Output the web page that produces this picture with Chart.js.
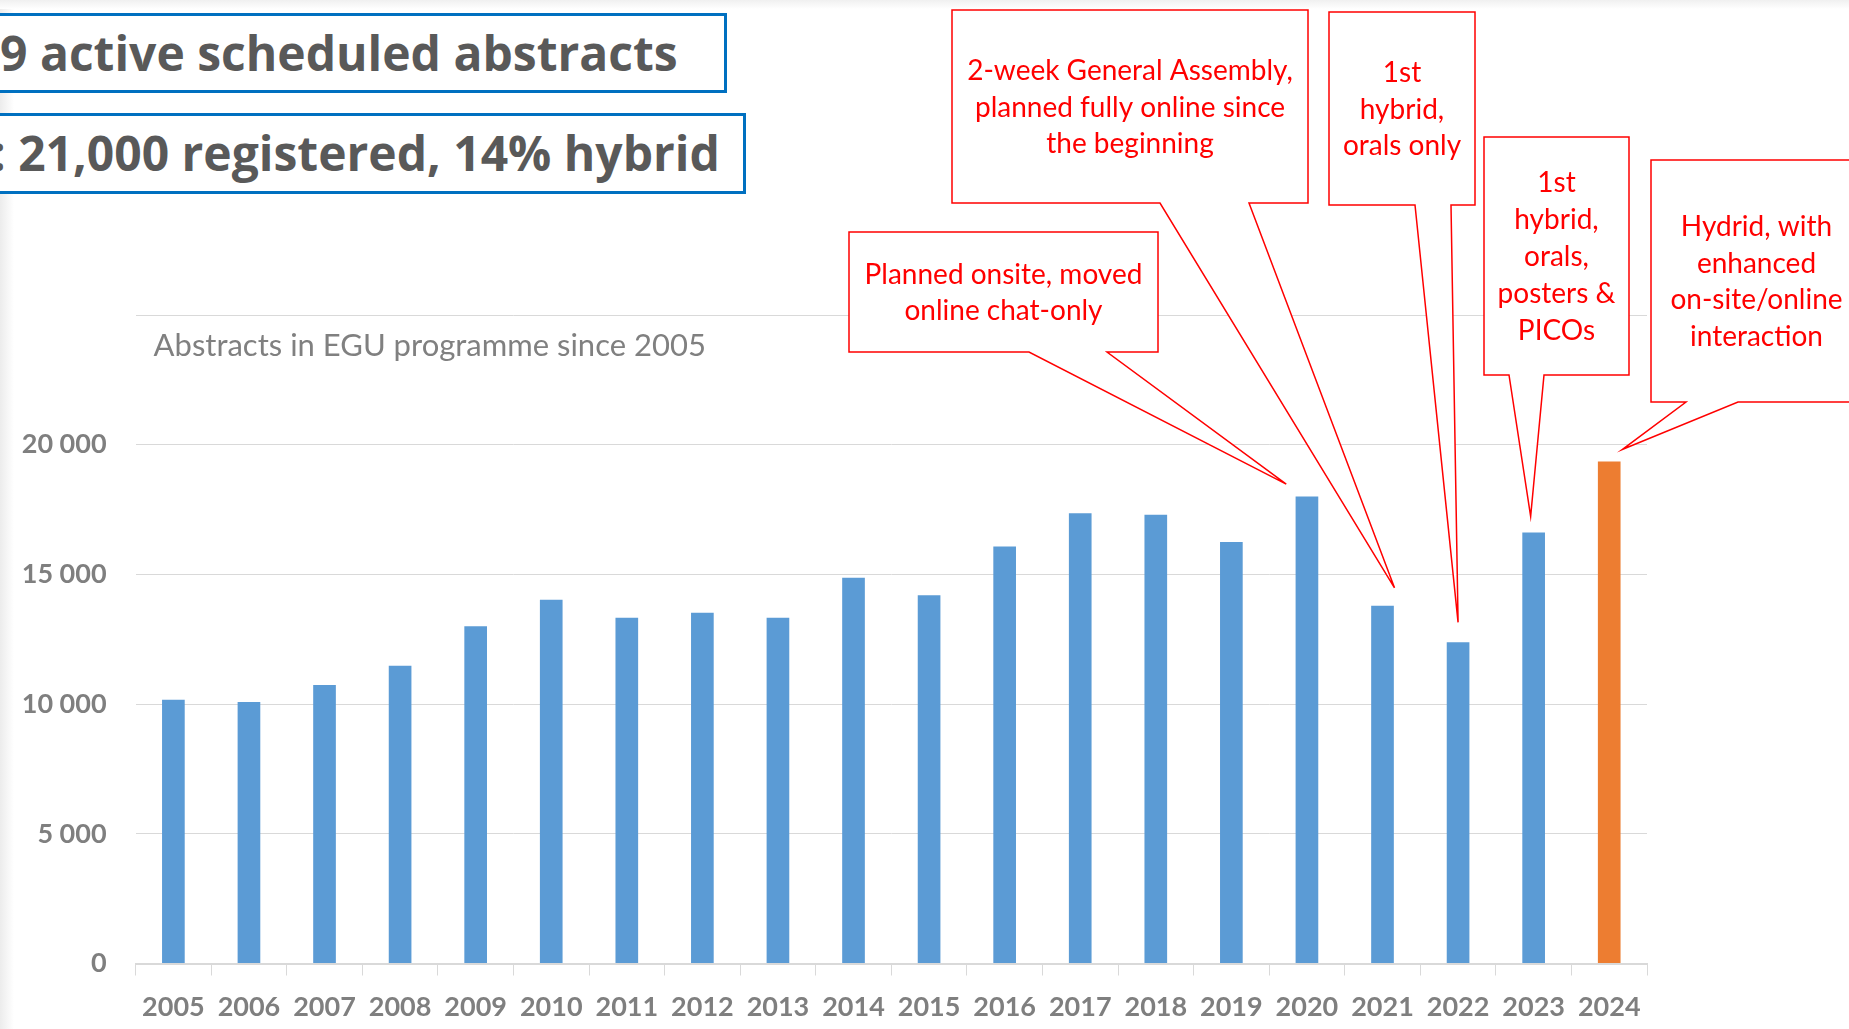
<!DOCTYPE html>
<html><head><meta charset="utf-8">
<script src="https://cdn.jsdelivr.net/npm/chart.js@4.4.1/dist/chart.umd.min.js"></script>
<style>
html,body{margin:0;padding:0;background:#fff;width:1849px;height:1029px;overflow:hidden;position:relative}
#c{position:absolute;left:0;top:0}
.edge-l{position:absolute;left:0;top:0;width:14px;height:1029px;background:linear-gradient(to right,#ececec,#ffffff)}
.edge-t{position:absolute;left:0;top:0;width:1849px;height:9px;background:linear-gradient(to bottom,#f0f0f0,#ffffff)}
.hbox{position:absolute;border:3px solid #0070C0;box-sizing:border-box;background:#fff}
.htxt{position:absolute;font-family:'Open Sans';font-weight:700;font-size:48px;line-height:50px;color:#595959;white-space:nowrap}
</style></head>
<body>
<div class="edge-l"></div>
<div class="edge-t"></div>
<div class="hbox" style="left:-10px;top:13px;width:737px;height:80px"></div>
<div class="hbox" style="left:-10px;top:113px;width:756px;height:81px"></div>
<div class="htxt" style="left:0px;top:28px">9 active scheduled abstracts</div>
<div class="htxt" style="left:-8px;top:128px">: 21,000 registered, 14% hybrid</div>
<canvas id="c" width="1849" height="1029"></canvas>
<script>
// ---- data ----
const years = ['2005','2006','2007','2008','2009','2010','2011','2012','2013','2014','2015','2016','2017','2018','2019','2020','2021','2022','2023','2024'];
const abstracts = [10170,10080,10740,11480,13000,14020,13330,13520,13330,14870,14200,16080,17360,17300,16250,18000,13790,12380,16620,19350];
const highlightYear = '2024';
const yMax = 25000;
const yStep = 5000;
const chartTitle = 'Abstracts in EGU programme since 2005';
const calloutYears = ['2020','2021','2022','2023','2024'];
const calloutTexts = [
  ['Planned onsite, moved','online chat-only'],
  ['2-week General Assembly,','planned fully online since','the beginning'],
  ['1st','hybrid,','orals only'],
  ['1st','hybrid,','orals,','posters &','PICOs'],
  ['Hydrid, with','enhanced','on-site/online','interaction']
];

// ---- layout / style ----
const BLUE = '#5B9BD5', ORANGE = '#ED7D31', RED = '#FF0000', GRID = '#d9d9d9', LABEL = '#7f7f7f';
const calloutLayout = [
  {box:[849,232,1158,352],  base:[1029,1107], tip:[-20.7,-12.4]},
  {box:[952,10,1308,203],   base:[1160,1249], tip:[12,-18]},
  {box:[1329,12,1475,205],  base:[1415,1451], tip:[0,-20]},
  {box:[1484,137,1629,375], base:[1509,1544], tip:[-3,-16]},
  {box:[1651,160,1862,402], base:[1686,1738], tip:[13,-12]}
];

function fmt(v){ return String(v).replace(/\B(?=(\d{3})+(?!\d))/g,' '); }

const overlay = {
  id:'overlay',
  afterDraw(chart){
    const ctx = chart.ctx, xs = chart.scales.x, ys = chart.scales.y, ca = chart.chartArea;
    ctx.save();
    // chart title
    ctx.font = '400 31px Lato';
    ctx.fillStyle = '#808080';
    ctx.textAlign = 'left';
    ctx.textBaseline = 'alphabetic';
    ctx.fillText(chartTitle, ca.left + 18, ca.top + 41);
    // callouts
    calloutYears.forEach((yr, i) => {
      const L = calloutLayout[i];
      const idx = years.indexOf(yr);
      const tx = xs.getPixelForValue(idx) + L.tip[0];
      const ty = ys.getPixelForValue(abstracts[idx]) + L.tip[1];
      const [x0,y0,x1,y1] = L.box;
      ctx.beginPath();
      ctx.moveTo(x0,y0); ctx.lineTo(x1,y0); ctx.lineTo(x1,y1);
      ctx.lineTo(L.base[1],y1); ctx.lineTo(tx,ty); ctx.lineTo(L.base[0],y1);
      ctx.lineTo(x0,y1); ctx.closePath();
      ctx.fillStyle = '#ffffff'; ctx.fill();
      ctx.strokeStyle = RED; ctx.lineWidth = 1.5; ctx.stroke();
      const lines = calloutTexts[i];
      const lh = 36.8, fs = 28;
      ctx.font = '400 ' + fs + 'px Lato';
      ctx.fillStyle = RED;
      ctx.textAlign = 'center';
      ctx.textBaseline = 'alphabetic';
      const cx = (x0 + x1) / 2;
      const cy = (y0 + y1) / 2;
      lines.forEach((t, k) => {
        const lc = cy + (k - (lines.length-1)/2) * lh;
        ctx.fillText(t, cx, lc + fs*0.36);
      });
    });
    ctx.restore();
  }
};

new Chart(document.getElementById('c').getContext('2d'), {
  type:'bar',
  data:{
    labels: years,
    datasets:[{
      data: abstracts,
      backgroundColor: years.map(y => y === highlightYear ? ORANGE : BLUE),
      barPercentage: 0.3,
      categoryPercentage: 1
    }]
  },
  options:{
    responsive:false, animation:false, devicePixelRatio:1,
    layout:{padding:{top:315,right:202,left:0,bottom:0}},
    plugins:{legend:{display:false}, tooltip:{enabled:false}, title:{display:false}},
    scales:{
      x:{
        grid:{offset:true, drawOnChartArea:false, color:GRID, tickLength:12, lineWidth:1},
        border:{color:GRID, width:2},
        ticks:{color:LABEL, font:{family:'Lato', weight:'bold', size:27}, padding:16, maxRotation:0, autoSkip:false},
        afterFit(s){ s.height = 65.5; }
      },
      y:{
        min:0, max:yMax,
        ticks:{stepSize:yStep, color:LABEL, font:{family:'Lato', weight:'bold', size:27}, padding:29,
          callback:v => v >= yMax ? '' : fmt(v)},
        grid:{color:GRID, drawTicks:false, lineWidth:1},
        border:{display:false},
        afterFit(s){ s.width = 135.6; }
      }
    }
  },
  plugins:[overlay]
});
</script>
</body></html>
